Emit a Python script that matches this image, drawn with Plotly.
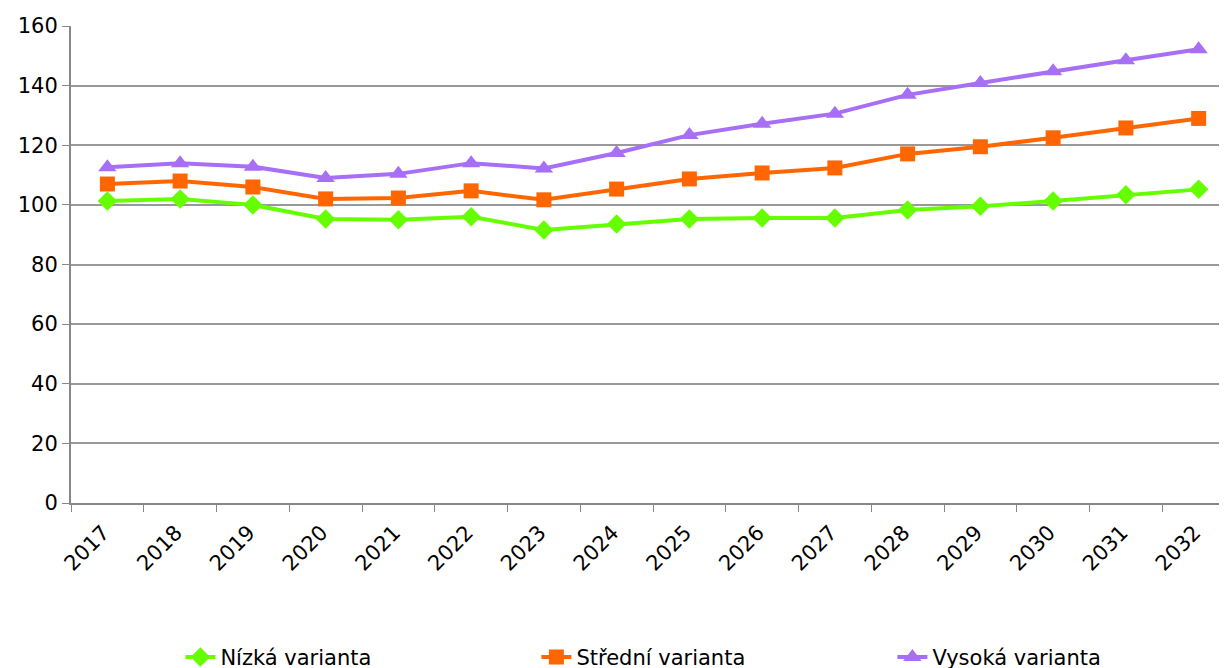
import plotly.graph_objects as go

years = [str(y) for y in range(2017, 2033)]
nizka = [101.3, 102.0, 100.0, 95.3, 95.0, 96.0, 91.6, 93.6, 95.3, 95.6,
         95.6, 98.3, 99.5, 101.3, 103.4, 105.2]
stredni = [107.0, 108.0, 106.0, 102.0, 102.3, 104.7, 101.7, 105.3, 108.7,
           110.7, 112.4, 117.1, 119.5, 122.5, 125.8, 129.0]
vysoka = [112.6, 114.0, 112.8, 109.0, 110.4, 114.0, 112.2, 117.4, 123.4,
          127.2, 130.6, 136.9, 140.9, 144.8, 148.5, 152.2]

fig = go.Figure()
fig.add_trace(go.Scatter(x=years, y=nizka, name="Nízká varianta",
                         mode="lines+markers",
                         line=dict(color="#66ff00", width=4),
                         marker=dict(symbol="diamond", size=15)))
fig.add_trace(go.Scatter(x=years, y=stredni, name="Střední varianta",
                         mode="lines+markers",
                         line=dict(color="#ff6600", width=4),
                         marker=dict(symbol="square", size=15)))
fig.add_trace(go.Scatter(x=years, y=vysoka, name="Vysoká varianta",
                         mode="lines+markers",
                         line=dict(color="#a66ff5", width=4),
                         marker=dict(symbol="triangle-up", size=16)))

# the page sits 8px in from the top-left; the plot runs past the right edge
fig.update_layout(
    width=1227, height=668,
    margin=dict(l=63, r=0, t=18, b=173),
    paper_bgcolor="white", plot_bgcolor="white",
    font=dict(family="DejaVu Sans", size=21, color="black"),
    showlegend=True,
    legend=dict(orientation="h", xref="container", x=0.1405, xanchor="left",
                yref="container", y=0.028, yanchor="middle", entrywidth=311,
                font=dict(size=21)),
    xaxis=dict(type="category", range=[-0.5, 15.5], tickson="boundaries",
               tickangle=-45, ticks="outside", ticklen=7, tickcolor="#888888",
               ticklabelstandoff=7, ticklabelshift=-4,
               showline=True, linecolor="#888888", linewidth=2,
               showgrid=False, automargin=False),
    yaxis=dict(range=[0, 160], dtick=20, ticks="outside", ticklen=7,
               tickcolor="#888888", showline=True, linecolor="#888888",
               linewidth=2, gridcolor="#999999", gridwidth=1.5,
               zeroline=False, automargin=False),
)

fig.write_html("out.html")
